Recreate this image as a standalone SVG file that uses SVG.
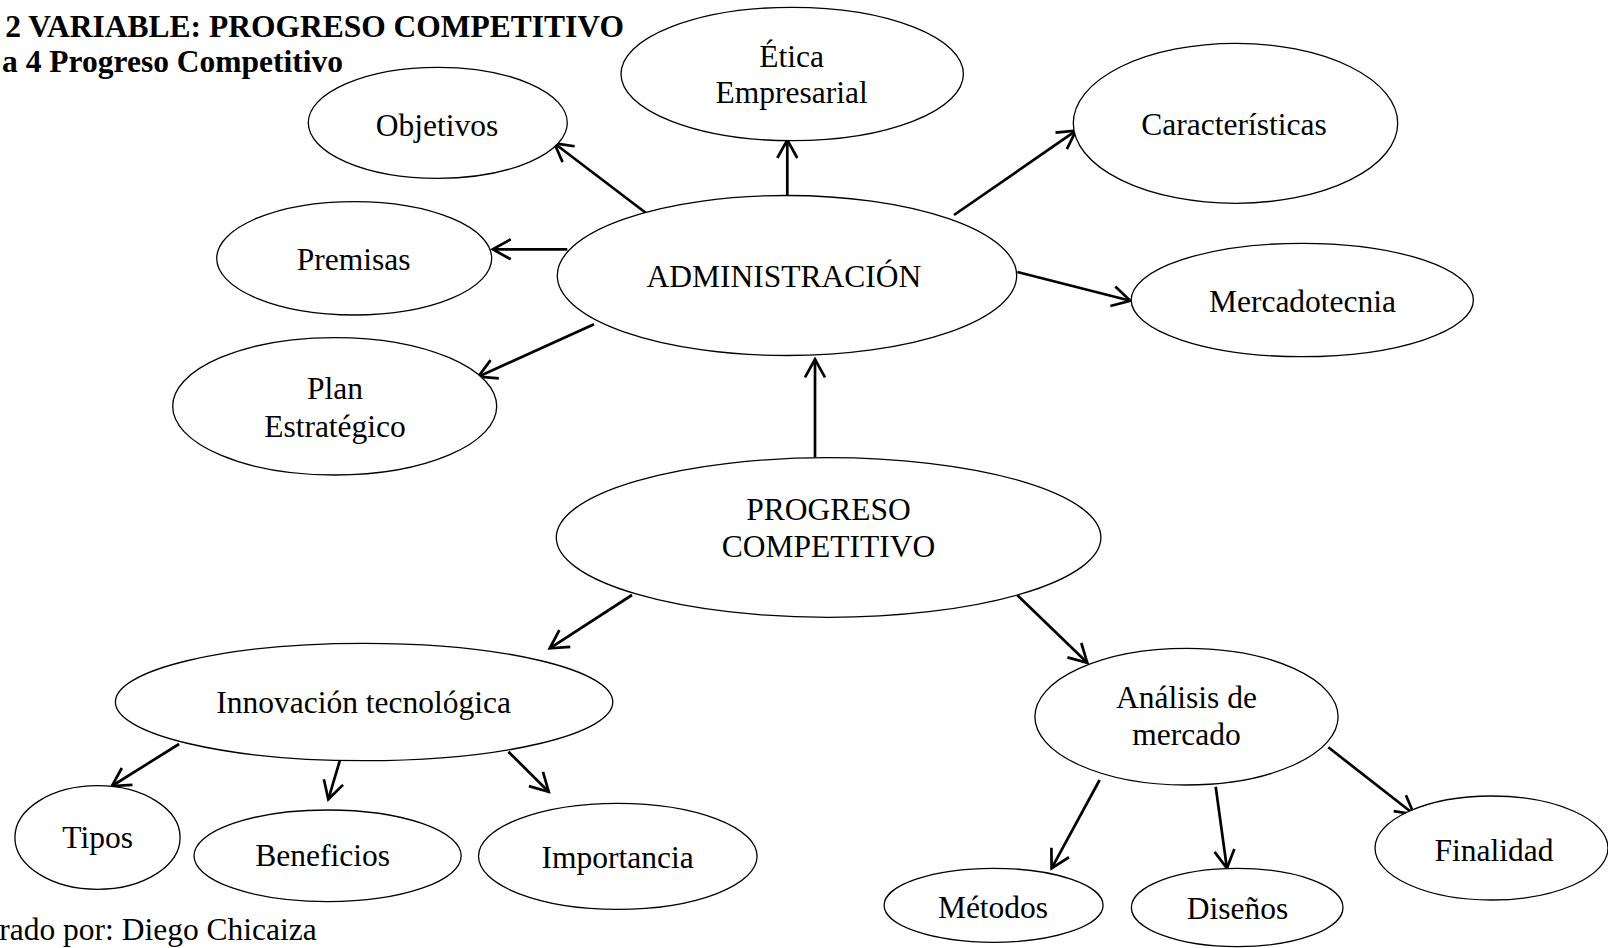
<svg xmlns="http://www.w3.org/2000/svg" width="1608" height="948" viewBox="0 0 1608 948">
  <style>
    .node ellipse { fill: #ffffff; stroke: #000000; stroke-width: 1.3; }
    .node text, .caption { font-family: "Liberation Serif", "Times New Roman", serif; font-size: 31.5px; fill: #000000; text-anchor: middle; }
    .title { font-family: "Liberation Serif", "Times New Roman", serif; font-size: 31.5px; font-weight: bold; fill: #000000; text-anchor: end; }
    .caption { text-anchor: end; }
    #connectors line { stroke: #000000; stroke-width: 2.7; fill: none; marker-end: url(#openArrow); }
  </style>
  <defs>
    <marker id="openArrow" markerUnits="userSpaceOnUse" viewBox="-22 -13 25 26" markerWidth="25" markerHeight="26" refX="0" refY="0" orient="auto">
      <path d="M-18,-10 L0,0 L-18,10" fill="none" stroke="#000000" stroke-width="2.7" stroke-linejoin="miter"/>
    </marker>
  </defs>

  <rect x="0" y="0" width="1608" height="948" fill="#ffffff"/>

  <!-- heading -->
  <text class="title" x="624" y="36.5">2 VARIABLE: PROGRESO COMPETITIVO</text>
  <text class="title" x="343" y="71.5">a 4 Progreso Competitivo</text>

  <!-- connectors -->
  <g id="connectors">
    <line x1="647.3" y1="214" x2="554.3" y2="143.3"/>
    <line x1="567.3" y1="249.3" x2="492.7" y2="249.3"/>
    <line x1="594" y1="324.3" x2="478.3" y2="376.7"/>
    <line x1="787.3" y1="195" x2="787.3" y2="140"/>
    <line x1="954" y1="215" x2="1076" y2="130.7"/>
    <line x1="1017.4" y1="272" x2="1130.3" y2="300.7"/>
    <line x1="815" y1="457.3" x2="815" y2="359.3"/>
    <line x1="632" y1="595" x2="549.7" y2="648.3"/>
    <line x1="1017.4" y1="595.3" x2="1087.3" y2="662.7"/>
    <line x1="179.1" y1="744" x2="111.9" y2="786"/>
    <line x1="341.2" y1="756" x2="328.3" y2="799.3"/>
    <line x1="508.4" y1="751.7" x2="548.7" y2="791.7"/>
    <line x1="1099.6" y1="780" x2="1051.6" y2="868.3"/>
    <line x1="1215.7" y1="786.7" x2="1226.9" y2="868.3"/>
    <line x1="1328.3" y1="747.3" x2="1414" y2="814.3"/>
  </g>

  <!-- nodes -->
  <g id="node-objetivos" class="node">
    <ellipse cx="437.8" cy="122.8" rx="129.5" ry="55.5"/>
    <text x="437" y="136">Objetivos</text>
  </g>
  <g id="node-etica" class="node">
    <ellipse cx="792.2" cy="74" rx="171.2" ry="66.7"/>
    <text x="791.7" y="66.7">Ética</text>
    <text x="791.7" y="103.3">Empresarial</text>
  </g>
  <g id="node-caracteristicas" class="node">
    <ellipse cx="1235.5" cy="123.3" rx="162.2" ry="80"/>
    <text x="1234" y="135">Características</text>
  </g>
  <g id="node-premisas" class="node">
    <ellipse cx="354.2" cy="258.3" rx="137.5" ry="56.7"/>
    <text x="353.7" y="270">Premisas</text>
  </g>
  <g id="node-administracion" class="node">
    <ellipse cx="787" cy="275.5" rx="229.7" ry="80"/>
    <text x="783.8" y="287.3">ADMINISTRACIÓN</text>
  </g>
  <g id="node-mercadotecnia" class="node">
    <ellipse cx="1302.3" cy="300" rx="171.1" ry="56.7"/>
    <text x="1302.5" y="311.7">Mercadotecnia</text>
  </g>
  <g id="node-plan" class="node">
    <ellipse cx="334.7" cy="406.3" rx="162" ry="68.7"/>
    <text x="335" y="399.3">Plan</text>
    <text x="335" y="436.7">Estratégico</text>
  </g>
  <g id="node-progreso" class="node">
    <ellipse cx="828.6" cy="537.5" rx="272.3" ry="79.8"/>
    <text x="828.4" y="520">PROGRESO</text>
    <text x="828.4" y="556.7">COMPETITIVO</text>
  </g>
  <g id="node-innovacion" class="node">
    <ellipse cx="364.1" cy="702" rx="248.7" ry="58.7"/>
    <text x="363.6" y="713.3">Innovación tecnológica</text>
  </g>
  <g id="node-analisis" class="node">
    <ellipse cx="1186.5" cy="716.7" rx="151.6" ry="68.3"/>
    <text x="1186.5" y="708.3">Análisis de</text>
    <text x="1186.5" y="745">mercado</text>
  </g>
  <g id="node-tipos" class="node">
    <ellipse cx="97.5" cy="837.5" rx="82.6" ry="51.8"/>
    <text x="97.7" y="848.3">Tipos</text>
  </g>
  <g id="node-beneficios" class="node">
    <ellipse cx="327.6" cy="855.8" rx="133.6" ry="45.8"/>
    <text x="322.6" y="866">Beneficios</text>
  </g>
  <g id="node-importancia" class="node">
    <ellipse cx="617.8" cy="856.3" rx="139.3" ry="53"/>
    <text x="617.6" y="868.3">Importancia</text>
  </g>
  <g id="node-metodos" class="node">
    <ellipse cx="993.6" cy="905.3" rx="109.5" ry="37"/>
    <text x="993" y="918.3">Métodos</text>
  </g>
  <g id="node-disenos" class="node">
    <ellipse cx="1237.2" cy="907.5" rx="105.8" ry="39.2"/>
    <text x="1237.5" y="919.3">Diseños</text>
  </g>
  <g id="node-finalidad" class="node">
    <ellipse cx="1491.5" cy="848" rx="116.5" ry="52"/>
    <text x="1494" y="861">Finalidad</text>
  </g>

  <!-- source note -->
  <text class="caption" x="316.7" y="940">rado por: Diego Chicaiza</text>
</svg>
